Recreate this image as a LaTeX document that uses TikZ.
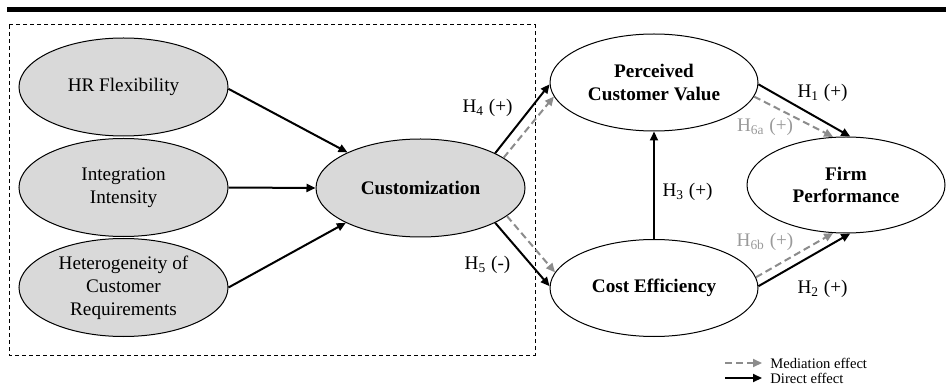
\documentclass[tikz,border=0pt]{standalone}
\usepackage{fontspec}
\setmainfont{Liberation Serif}
\usepackage{xcolor}
\usetikzlibrary{arrows.meta,shapes.geometric}

\definecolor{fillgray}{HTML}{D9D9D9}
\definecolor{medgray}{HTML}{8C8C8C}
\definecolor{labgray}{HTML}{9A9A9A}

\begin{document}
\begin{tikzpicture}[
  x=0.5pt, y=-0.5pt,
  font=\fontsize{9.6}{11.4}\selectfont,
  v/.style={draw, ellipse, fill=fillgray, line width=0.5pt, inner sep=0pt, minimum width=104.5pt, minimum height=49pt, align=center},
  o/.style={v, fill=white, minimum width=104pt, minimum height=48.5pt, font=\fontsize{9.6}{11.4}\selectfont\bfseries},
  arr/.style={-{Triangle[length=4.5pt, width=4pt]}, line width=1pt},
  med/.style={arr, medgray, dash pattern=on 3.5pt off 2pt},
  h/.style={inner sep=0pt},
  hg/.style={h, labgray},
  lg/.style={inner sep=0pt, anchor=west, font=\fontsize{7.3}{8}\selectfont}
]
  \useasboundingbox (0,0) rectangle (946,389);

  % heading rule and the frame round the antecedents
  \fill (7,7) rectangle (946,12);
  \draw[line width=0.5pt, dash pattern=on 2pt off 1.5pt] (9,25) rectangle (535,355);

  % constructs
  \node[v] (hr) at (123.5,87) {HR Flexibility};
  \node[v] (ii) at (123.5,187.5) {Integration\\Intensity};
  \node[v] (hcr) at (123.5,287.5) {Heterogeneity of\\Customer\\Requirements};
  \node[v, font=\fontsize{9.6}{11.4}\selectfont\bfseries] (cust) at (420.5,188) {Customization};
  \node[o] (pcv) at (654,82.5) {Perceived\\Customer Value};
  \node[o] (ce) at (654,288) {Cost Efficiency};
  \node[o, minimum width=99pt, minimum height=48pt] (fp) at (846,185) {Firm\\Performance};

  % paths
  \draw[arr] (hr.-1) -- (cust.154);
  \draw[arr] (ii.east) -- (cust.west);
  \draw[arr] (hcr.0) -- (cust.205);
  \draw[arr] (cust.25) -- (pcv.181);
  \draw[med] (cust.20) -- (pcv.188);
  \draw[arr] (cust.-25) -- (ce.179);
  \draw[med] (cust.-18) -- (ce.171);
  \draw[arr] (ce.north) -- (pcv.south);
  \draw[arr] (pcv.-1) -- (fp.85);
  \draw[med] (pcv.-8) -- (fp.105);
  \draw[arr] (ce.1) -- (fp.-85);
  \draw[med] (ce.6) -- (fp.-105);

  % hypotheses
  \node[h] (h4) at (487.5,108) {H\textsubscript{4} (+)};
  \node[h] (h5) at (487.5,265) {H\textsubscript{5} (-)};
  \node[h] (h3) at (687.5,192) {H\textsubscript{3} (+)};
  \node[h] (h1) at (822.5,93) {H\textsubscript{1} (+)};
  \node[h] (h2) at (822.5,289) {H\textsubscript{2} (+)};
  \node[hg] (h6a) at (765,127) {H\textsubscript{6a} (+)};
  \node[hg] (h6b) at (765,242) {H\textsubscript{6b} (+)};

  % legend
  \coordinate (mstart) at (725,363);
  \coordinate (dstart) at (725,378);
  \node[lg] (mtext) at (770,363) {Mediation effect};
  \node[lg] (dtext) at (770,378) {Direct effect};
  \draw[med] (mstart) -- ([xshift=-4pt]mtext.west);
  \draw[arr] (dstart) -- ([xshift=-4pt]dtext.west);
\end{tikzpicture}
\end{document}
